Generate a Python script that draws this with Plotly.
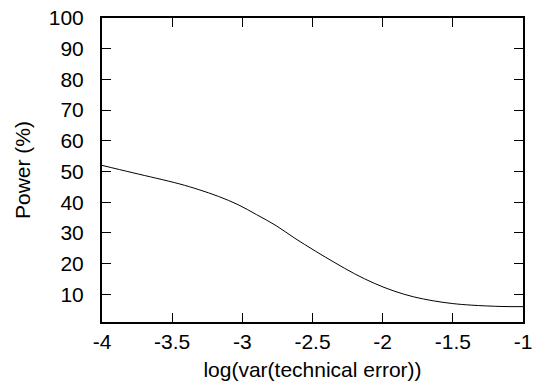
import plotly.graph_objects as go

# Data
log_var = [-4.0, -3.78, -3.45, -3.31, -3.17, -3.03, -2.9, -2.76, -2.63, -2.48, -2.34, -2.2, -2.06, -1.92, -1.78, -1.64, -1.5, -1.37, -1.15, -1.0]
power = [52.0, 49.6, 46.0, 44.1, 41.9, 39.2, 36.0, 32.4, 28.4, 24.1, 20.3, 16.7, 13.6, 11.1, 9.2, 7.9, 7.0, 6.5, 6.05, 6.0]

x_ticks = [-4, -3.5, -3, -2.5, -2, -1.5, -1]
x_tick_labels = ["-4", "-3.5", "-3", "-2.5", "-2", "-1.5", "-1"]
y_ticks = [10, 20, 30, 40, 50, 60, 70, 80, 90, 100]
y_tick_labels = ["10", "20", "30", "40", "50", "60", "70", "80", "90", "100"]

fig = go.Figure()
fig.add_trace(go.Scatter(
    x=log_var, y=power, mode="lines",
    line=dict(color="black", width=1, shape="spline", smoothing=1.0),
    showlegend=False, hoverinfo="skip",
))

font = dict(family="Liberation Sans, Arial, sans-serif", size=21, color="black")

fig.update_layout(
    width=538, height=390,
    margin=dict(l=102, r=6, t=18, b=68),
    paper_bgcolor="white", plot_bgcolor="white",
    font=font,
)
fig.update_xaxes(
    range=[-4, -1], tickvals=x_ticks, ticktext=x_tick_labels,
    ticks="inside", ticklen=9, tickwidth=1, tickcolor="black",
    showline=True, linewidth=2, linecolor="black", mirror="ticks",
    showgrid=False, zeroline=False, ticklabelstandoff=0,
    ticklabeloverflow="allow",
    title=dict(text="log(var(technical error))", font=font, standoff=10),
)
fig.update_yaxes(
    range=[1, 100], tickvals=y_ticks, ticktext=y_tick_labels,
    ticks="inside", ticklen=9, tickwidth=1, tickcolor="black",
    showline=True, linewidth=2, linecolor="black", mirror="ticks",
    showgrid=False, zeroline=False, ticklabelstandoff=12,
    ticklabeloverflow="allow",
    title=dict(text="Power (%)", font=font, standoff=12),
)

fig.write_html("out.html")
